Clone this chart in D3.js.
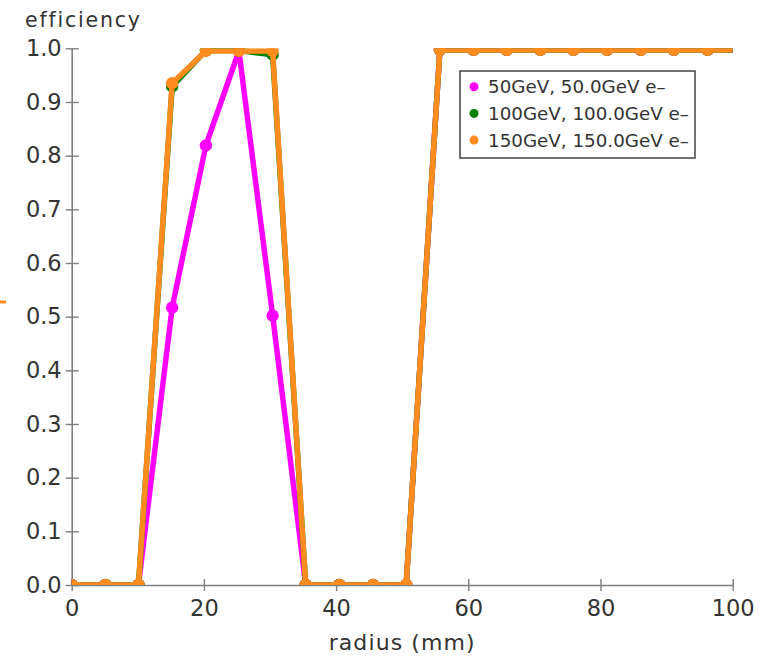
<!DOCTYPE html>
<html>
<head>
<meta charset="utf-8">
<script src="https://cdn.jsdelivr.net/npm/d3@7"></script>
<style>
  html, body { margin: 0; padding: 0; background: #fff; }
  svg { display: block; font-family: "DejaVu Sans", Verdana, sans-serif; }
</style>
</head>
<body>
<svg id="chart" width="759" height="656"></svg>
<script>
// Radius bins (mm)
const radius = [0, 5.1, 10.1, 15.2, 20.3, 25.3, 30.4, 35.4, 40.5, 45.6, 50.6,
                55.7, 60.8, 65.8, 70.9, 75.9, 81.0, 86.1, 91.1, 96.2, 101.3];

// Efficiency per radius bin for each beam energy
const eff50  = [0, 0, 0, 0.517, 0.819, 0.995, 0.502, 0, 0, 0, 0,
                0.997, 0.997, 0.997, 0.997, 0.997, 0.997, 0.997, 0.997, 0.997, 0.997];
const eff100 = [0, 0, 0, 0.929, 0.996, 0.996, 0.988, 0, 0, 0, 0,
                0.997, 0.997, 0.997, 0.997, 0.997, 0.997, 0.997, 0.997, 0.997, 0.997];
const eff150 = [0, 0, 0, 0.935, 0.995, 0.995, 0.995, 0, 0, 0, 0,
                0.997, 0.997, 0.997, 0.997, 0.997, 0.997, 0.997, 0.997, 0.997, 0.997];

const seriesNames  = ["50GeV, 50.0GeV e\u2013", "100GeV, 100.0GeV e\u2013", "150GeV, 150.0GeV e\u2013"];
const seriesColors = ["#ff00ff", "#008000", "#ff8c1f"];
const seriesValues = [eff50, eff100, eff150];

const xTicks = [0, 20, 40, 60, 80, 100];
const yTicks = [0, 0.1, 0.2, 0.3, 0.4, 0.5, 0.6, 0.7, 0.8, 0.9, 1.0];

const svg = d3.select("#chart");
const W = 759, H = 656;
const margin = { top: 48.3, right: 26.3, bottom: 71, left: 71.7 };
const iw = W - margin.left - margin.right;
const ih = H - margin.top - margin.bottom;

const x = d3.scaleLinear().domain([0, 100]).range([0, iw]);
const y = d3.scaleLinear().domain([0, 1]).range([ih, 0]);

const g = svg.append("g").attr("transform", `translate(${margin.left},${margin.top})`);

svg.append("defs").append("clipPath").attr("id", "plot-clip")
  .append("rect").attr("x", 0).attr("y", 0).attr("width", iw).attr("height", ih);

const axisColor = "#7f7f7f";
const textColor = "#333";

// x axis
const xAxis = g.append("g").attr("transform", `translate(0,${ih})`)
  .call(d3.axisBottom(x).tickValues(xTicks).tickFormat(d3.format("d"))
        .tickSizeInner(0).tickSizeOuter(0).tickPadding(15));
xAxis.select(".domain").attr("stroke", axisColor).attr("stroke-width", 1.6);
xAxis.selectAll(".tick").append("line")
  .attr("y1", -6).attr("y2", 6).attr("stroke", axisColor).attr("stroke-width", 1.4);
xAxis.selectAll(".tick text").attr("fill", textColor).style("font-size", "22.5px")
  .style("font-family", "DejaVu Sans, sans-serif");

// y axis
const yAxis = g.append("g")
  .call(d3.axisLeft(y).tickValues(yTicks).tickFormat(d3.format(".1f"))
        .tickSizeInner(0).tickSizeOuter(0).tickPadding(10));
yAxis.select(".domain").attr("stroke", axisColor).attr("stroke-width", 1.6);
yAxis.selectAll(".tick").append("line")
  .attr("x1", -6).attr("x2", 7).attr("stroke", axisColor).attr("stroke-width", 1.4);
yAxis.selectAll(".tick text").attr("fill", textColor).style("font-size", "22.5px")
  .style("font-family", "DejaVu Sans, sans-serif");

// axis titles
svg.append("text").attr("x", 25).attr("y", 27)
  .attr("fill", textColor).style("font-size", "20.5px").style("letter-spacing", "1.8px")
  .text("efficiency");
svg.append("text").attr("x", margin.left + iw / 2).attr("y", 650)
  .attr("text-anchor", "middle")
  .attr("fill", textColor).style("font-size", "22px").style("letter-spacing", "1.1px")
  .text("radius (mm)");

// small orange dash on the left edge
svg.append("line").attr("x1", 0).attr("x2", 6).attr("y1", 302).attr("y2", 302)
  .attr("stroke", seriesColors[2]).attr("stroke-width", 3);

// data series
const plot = g.append("g").attr("clip-path", "url(#plot-clip)");
const line = d3.line().x((d, i) => x(radius[i])).y(d => y(d));

seriesValues.forEach((vals, k) => {
  const sg = plot.append("g");
  sg.append("path").datum(vals)
    .attr("d", line)
    .attr("fill", "none")
    .attr("stroke", seriesColors[k])
    .attr("stroke-width", 5.5)
    .attr("stroke-linejoin", "round");
  sg.selectAll("circle").data(vals).join("circle")
    .attr("cx", (d, i) => x(radius[i]))
    .attr("cy", d => y(d))
    .attr("r", 6.2)
    .attr("fill", seriesColors[k]);
});

// legend
const legend = svg.append("g").attr("transform", "translate(460,71)");
legend.append("rect").attr("width", 235).attr("height", 87)
  .attr("fill", "#fff").attr("stroke", "#444").attr("stroke-width", 1.5);
seriesNames.forEach((name, k) => {
  const ly = 15.7 + k * 26.7;
  legend.append("circle").attr("cx", 14).attr("cy", ly).attr("r", 4.5)
    .attr("fill", seriesColors[k]);
  legend.append("text").attr("x", 28).attr("y", ly).attr("dy", "0.36em")
    .attr("fill", textColor).style("font-size", "18.3px").text(name);
});
</script>
</body>
</html>
